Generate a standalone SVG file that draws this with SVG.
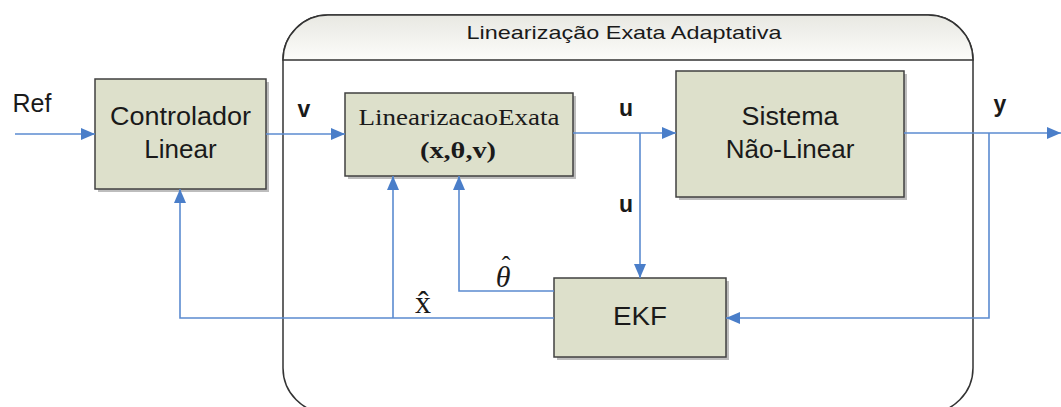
<svg xmlns="http://www.w3.org/2000/svg" width="1061" height="407" viewBox="0 0 1061 407">
<style>
.blk{fill:#dde0cb;stroke:#404040;stroke-width:1.5}
.sh{fill:#bdbdbd}
.lbl{font-family:"Liberation Sans",Arial,sans-serif;fill:#1a1a1a;text-anchor:middle}
.ser{font-family:"Liberation Serif","Times New Roman",serif;fill:#1a1a1a;text-anchor:middle}
.bold{font-weight:bold}
.con{fill:none;stroke:#5b8bd0;stroke-width:1.6}
</style>
<defs>
<linearGradient id="hdr" x1="0" y1="0" x2="0" y2="1">
<stop offset="0" stop-color="#e8e8e2"/>
<stop offset="1" stop-color="#fcfcfa"/>
</linearGradient>
<marker id="arr" markerUnits="userSpaceOnUse" markerWidth="16" markerHeight="14" refX="14" refY="6" orient="auto">
<path d="M0,0 L14,6 L0,12 Z" fill="#4a7ec9"/>
</marker>
</defs>
<rect width="1061" height="407" fill="#ffffff"/>
<g id="container">
<rect x="283" y="15" width="690" height="398" rx="45" ry="45" fill="#ffffff" stroke="#333333" stroke-width="1.5"/>
<path d="M283,60 A45,45 0 0 1 328,15 H928 A45,45 0 0 1 973,60 Z" fill="url(#hdr)" stroke="#333333" stroke-width="1.5"/>
<text class="lbl" x="624" y="39" font-size="19" textLength="315" lengthAdjust="spacingAndGlyphs">Linearização Exata Adaptativa</text>
</g>
<g id="controlador">
<rect class="sh" x="98" y="82" width="171" height="110"/>
<rect class="blk" x="95" y="79" width="171" height="110"/>
<text class="lbl" x="180.5" y="125" font-size="26" textLength="141" lengthAdjust="spacingAndGlyphs">Controlador</text>
<text class="lbl" x="180.5" y="158" font-size="26">Linear</text>
</g>
<g id="linearizacao">
<rect class="sh" x="348" y="96" width="228" height="83"/>
<rect class="blk" x="345" y="93" width="228" height="83"/>
<text class="ser" x="459" y="125" font-size="23" textLength="201" lengthAdjust="spacingAndGlyphs">LinearizacaoExata</text>
<text class="ser bold" x="458" y="158" font-size="23" textLength="76" lengthAdjust="spacingAndGlyphs">(x,θ,v)</text>
</g>
<g id="sistema">
<rect class="sh" x="679" y="74" width="228" height="126"/>
<rect class="blk" x="676" y="71" width="228" height="126"/>
<text class="lbl" x="790" y="125" font-size="26" textLength="97" lengthAdjust="spacingAndGlyphs">Sistema</text>
<text class="lbl" x="790" y="158" font-size="26">Não-Linear</text>
</g>
<g id="ekf">
<rect class="sh" x="557" y="281" width="172" height="79"/>
<rect class="blk" x="554" y="278" width="172" height="79"/>
<text class="lbl" x="640" y="325" font-size="26" textLength="54" lengthAdjust="spacingAndGlyphs">EKF</text>
</g>
<g id="connectors">
<path class="con" d="M15,134 H95" marker-end="url(#arr)"/>
<path class="con" d="M266,134 H345" marker-end="url(#arr)"/>
<path class="con" d="M573,133 H676" marker-end="url(#arr)"/>
<path class="con" d="M640,133 V278" marker-end="url(#arr)"/>
<path class="con" d="M904,133 H1061" marker-end="url(#arr)"/>
<path class="con" d="M989,133 V318 H726" marker-end="url(#arr)"/>
<path class="con" d="M554,291 H459 V176" marker-end="url(#arr)"/>
<path class="con" d="M554,318 H180 V189" marker-end="url(#arr)"/>
<path class="con" d="M393,318 V176" marker-end="url(#arr)"/>
</g>
<g id="labels">
<text class="lbl" x="32" y="112" font-size="25">Ref</text>
<text class="lbl bold" x="304" y="117" font-size="23">v</text>
<text class="lbl bold" x="626" y="116" font-size="23">u</text>
<text class="lbl bold" x="626" y="212" font-size="23">u</text>
<text class="lbl bold" x="1000" y="112" font-size="23">y</text>
<text class="ser" x="503" y="287" font-size="30" font-style="italic">θ<tspan x="506" y="274" font-size="26" font-style="normal">ˆ</tspan></text>
<text class="ser" x="423" y="313" font-size="32">x̂</text>
</g>
</svg>
